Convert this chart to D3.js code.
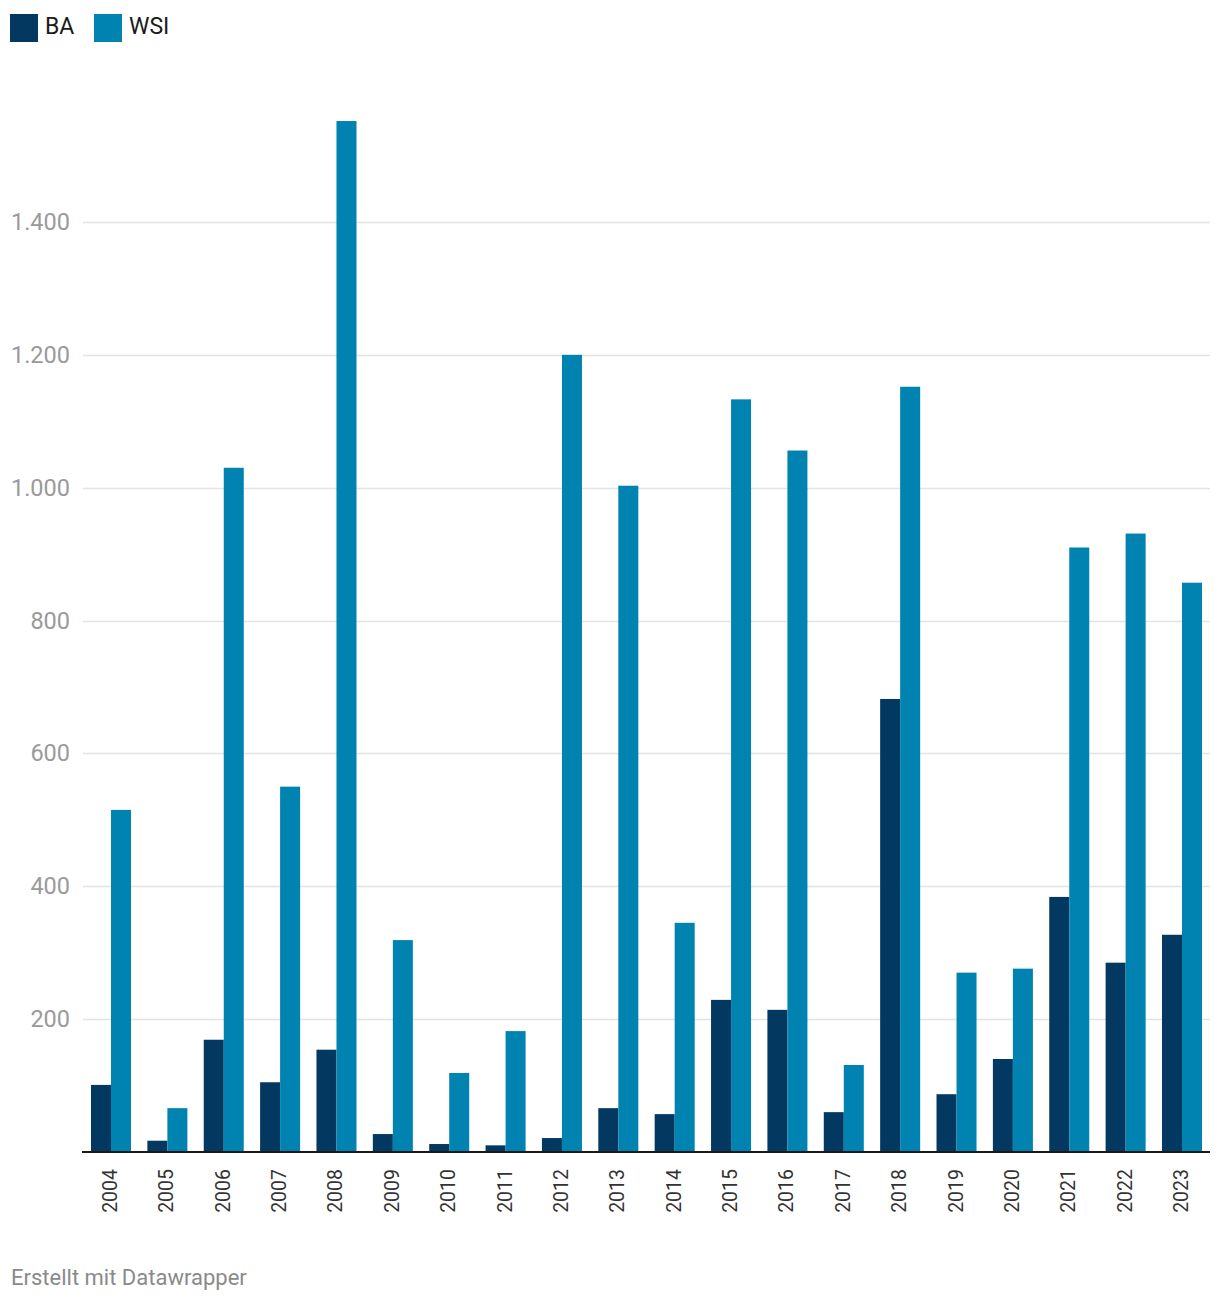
<!DOCTYPE html>
<html>
<head>
<meta charset="utf-8">
<script src="https://cdn.jsdelivr.net/npm/d3@7"></script>
<style>
  html, body { margin: 0; padding: 0; background: #fff; }
  svg text { font-family: Roboto, "Noto Sans", sans-serif; }
</style>
</head>
<body>
<svg id="chart" width="1220" height="1304"></svg>
<script>
const years = ["2004","2005","2006","2007","2008","2009","2010","2011","2012","2013","2014","2015","2016","2017","2018","2019","2020","2021","2022","2023"];
const seriesNames = ["BA", "WSI"];
const baValues  = [101, 17, 169, 105, 154, 27, 12, 10, 21, 66, 57, 229, 214, 60, 682, 87, 140, 384, 285, 327];
const wsiValues = [515, 66, 1030, 550, 1552, 319, 119, 182, 1200, 1003, 345, 1133, 1056, 131, 1152, 270, 276, 910, 931, 857];
const yTicks = [200, 400, 600, 800, 1000, 1200, 1400];
const colors = { BA: "#033961", WSI: "#0083b0" };
const footerText = "Erstellt mit Datawrapper";

const svg = d3.select("#chart");
const fmt = d3.formatLocale({ decimal: ",", thousands: ".", grouping: [3], currency: ["", "€"] }).format(",d");

const x0 = d3.scaleBand().domain(years).range([91, 1202]).paddingInner(0.29).paddingOuter(0);
const x1 = d3.scaleBand().domain(seriesNames).range([0, x0.bandwidth()]).padding(0);
const y = d3.scaleLinear().domain([0, 1400]).range([1152, 222]);

// gridlines
const grid = svg.append("g");
grid.selectAll("line").data(yTicks).join("line")
  .attr("x1", 83).attr("x2", 1210)
  .attr("y1", d => Math.round(y(d)) + 0.5).attr("y2", d => Math.round(y(d)) + 0.5)
  .attr("stroke", "#e3e3e3").attr("stroke-width", 1.5);

// y labels
svg.append("g").selectAll("text").data(yTicks).join("text")
  .attr("x", 70).attr("y", d => y(d) + 8)
  .attr("text-anchor", "end")
  .attr("font-size", 23.5).attr("fill", "#9a9a9a")
  .text(d => fmt(d));

// bars
const data = years.map((yr, i) => ({ year: yr, BA: baValues[i], WSI: wsiValues[i] }));
const groups = svg.append("g").selectAll("g").data(data).join("g")
  .attr("transform", d => `translate(${x0(d.year)},0)`);
groups.selectAll("rect").data(d => seriesNames.map(k => ({ key: k, value: d[k] }))).join("rect")
  .attr("x", d => x1(d.key)).attr("width", x1.bandwidth())
  .attr("y", d => y(d.value)).attr("height", d => y(0) - y(d.value))
  .attr("fill", d => colors[d.key]);

// baseline
svg.append("line").attr("x1", 82).attr("x2", 1210)
  .attr("y1", y(0)).attr("y2", y(0))
  .attr("stroke", "#1a1a1a").attr("stroke-width", 2);

// x labels
svg.append("g").selectAll("text").data(years).join("text")
  .attr("transform", d => `translate(${x0(d) + x0.bandwidth() / 2 + 6},1169) rotate(-90)`)
  .attr("text-anchor", "end")
  .attr("font-size", 19.5).attr("fill", "#333")
  .text(d => d);

// legend
const legend = svg.append("g");
const legendX = [10, 94];
seriesNames.forEach((name, i) => {
  legend.append("rect").attr("x", legendX[i]).attr("y", 14).attr("width", 28).attr("height", 28).attr("fill", colors[name]);
  legend.append("text").attr("x", legendX[i] + 35).attr("y", 34).attr("font-size", 23).attr("fill", "#1a1a1a").text(name);
});

// footer
svg.append("text").attr("x", 11).attr("y", 1285).attr("font-size", 22).attr("fill", "#8a8a8a").text(footerText);
</script>
</body>
</html>
